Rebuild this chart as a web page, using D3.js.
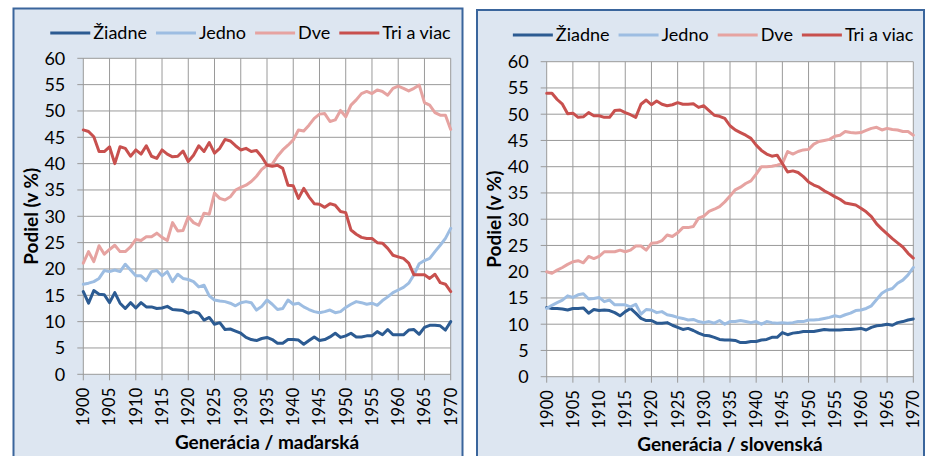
<!DOCTYPE html>
<html><head><meta charset="utf-8">
<script src="https://cdn.jsdelivr.net/npm/d3@7/dist/d3.min.js"></script>
<style>
body{margin:0;background:#fff}
svg{display:block}
text{font-family:Lato,"Open Sans",sans-serif;fill:#000}
</style>
</head><body>
<svg id="c" width="926" height="456"></svg>
<script>
// ---------- DATA ----------
const years = d3.range(1900, 1971);
const seriesNames = ["Žiadne", "Jedno", "Dve", "Tri a viac"];
const xTicks = [1900,1905,1910,1915,1920,1925,1930,1935,1940,1945,1950,1955,1960,1965,1970];
const yTicks = [0,5,10,15,20,25,30,35,40,45,50,55,60];
const panelTitles = ["Generácia / maďarská", "Generácia / slovenská"];
const yTitle = "Podiel (v %)";

const huZiadne = [15.7,13.5,15.9,15.2,15.1,13.6,15.5,13.5,12.5,13.6,
  12.6,13.6,12.8,12.8,12.5,12.6,12.9,12.3,12.2,12.1,
  11.6,11.9,11.6,10.3,10.8,9.5,9.8,8.5,8.6,8.2,
  7.8,7.0,6.6,6.4,6.8,7.0,6.6,5.9,5.9,6.6,
  6.6,6.5,5.7,6.4,7.1,6.4,6.6,7.1,7.8,7.0,
  7.3,7.8,7.1,7.1,7.3,7.3,8.1,7.5,8.5,7.5,
  7.5,7.5,8.4,8.5,7.6,8.9,9.3,9.3,9.2,8.4,10.0];
const huJedno = [17.1,17.3,17.6,18.2,19.7,19.5,19.8,19.5,20.9,19.8,
  18.7,18.7,17.8,19.5,19.7,18.7,19.5,17.6,19.0,18.2,
  18.0,17.6,16.6,16.9,14.9,14.1,13.9,13.8,13.5,13.0,
  13.6,13.8,13.6,12.2,12.9,14.1,13.3,12.3,12.5,14.1,
  13.3,13.5,12.8,12.3,11.9,11.7,11.9,12.2,11.7,11.9,
  12.7,13.3,13.8,13.6,13.3,13.5,13.1,14.0,14.7,15.5,
  16.0,16.5,17.3,18.9,21.0,21.6,22.0,23.3,24.5,25.8,27.7];
const huDve = [21.1,23.3,21.4,24.4,22.8,23.7,24.5,23.3,23.3,24.2,
  25.6,25.4,26.1,26.1,26.8,26.0,25.4,28.8,27.2,27.3,
  29.9,28.8,28.3,30.6,30.4,34.4,33.4,33.1,33.7,35.0,
  35.5,35.9,36.6,37.6,38.9,39.7,39.9,41.4,42.6,43.5,
  44.5,46.4,46.2,47.3,48.6,49.4,49.5,48.0,48.3,50.1,
  48.9,51.1,52.1,53.3,53.7,53.3,54.0,53.7,53.0,54.3,
  54.7,54.3,53.8,54.3,54.9,51.6,51.1,49.7,49.2,49.2,46.5];
const huTri = [46.4,46.1,45.1,42.3,42.3,43.2,40.0,43.2,42.9,41.4,
  42.6,41.8,43.4,41.4,41.0,42.6,41.8,41.3,41.4,42.4,
  40.4,41.6,43.4,42.3,44.0,42.0,42.9,44.6,44.3,43.4,
  42.6,42.9,42.3,42.5,41.3,39.7,39.5,39.7,39.1,35.9,
  35.8,33.4,35.3,33.7,32.4,32.3,31.7,32.4,32.1,30.9,
  30.7,27.4,26.6,26.0,25.8,25.8,25.0,24.9,23.9,22.6,
  22.3,22.0,21.1,18.9,18.9,18.9,18.2,19.0,17.4,17.1,15.7];

const skZiadne = [13.2,13.0,13.0,12.9,12.7,13.0,13.0,13.1,12.1,12.8,
  12.6,12.7,12.6,12.2,11.6,12.4,13.0,12.1,11.1,10.7,
  10.7,10.2,10.2,10.3,9.8,9.4,9.0,9.2,8.8,8.3,
  7.9,7.8,7.5,7.1,7.0,7.0,6.9,6.5,6.5,6.7,
  6.7,7.0,7.1,7.5,7.5,8.4,8.0,8.3,8.4,8.6,
  8.6,8.6,8.8,9.0,8.9,8.9,8.9,9.0,9.0,9.1,
  9.2,8.9,9.4,9.7,9.8,10.0,9.8,10.3,10.5,10.8,11.0];
const skJedno = [13.0,13.6,14.1,14.6,15.4,15.1,15.6,15.8,14.8,14.9,
  15.1,14.3,14.6,13.7,13.7,13.7,13.3,13.8,11.9,12.8,
  12.7,12.2,12.4,11.8,11.6,11.3,11.1,10.8,10.9,10.5,
  10.3,10.5,10.2,10.7,10.0,10.5,10.5,10.7,10.5,10.3,
  10.5,10.0,10.5,10.3,10.2,10.3,10.2,10.3,10.5,10.5,
  10.8,10.8,10.9,11.1,11.3,11.6,11.4,11.8,12.1,12.6,
  12.7,13.0,13.5,14.7,15.9,16.5,16.8,17.8,18.4,19.4,20.8];
const skDve = [20.0,19.7,20.3,20.8,21.4,21.9,22.1,21.7,22.9,22.5,
  22.9,23.8,23.8,23.8,24.1,23.8,24.1,24.9,24.9,24.1,
  25.4,25.5,25.9,27.0,26.7,27.4,28.4,28.4,28.6,30.2,
  30.6,31.5,31.9,32.4,33.3,34.4,35.6,36.1,36.8,37.3,
  38.6,40.0,40.0,40.1,40.3,40.6,42.9,42.4,42.9,43.2,
  43.3,44.3,44.8,45.0,45.2,45.8,46.0,46.7,46.5,46.4,
  46.5,46.9,47.3,47.5,47.0,47.3,47.1,47.0,46.7,46.7,46.0];
const skTri = [54.0,54.0,52.8,51.9,50.1,50.2,49.4,49.5,50.3,49.7,
  49.7,49.4,49.4,50.7,50.8,50.3,49.9,49.4,51.9,52.7,
  51.8,52.5,51.9,51.6,51.8,52.2,51.9,51.9,52.0,51.3,
  51.6,50.7,49.8,49.6,49.2,47.8,47.0,46.5,46.0,45.4,
  44.1,43.1,42.4,42.0,42.2,40.6,39.0,39.2,38.9,38.1,
  37.1,36.5,36.1,35.4,34.9,34.3,33.8,33.1,32.9,32.7,
  32.1,31.4,30.5,29.1,28.1,27.2,26.3,25.5,24.7,23.5,22.6];

// ---------- STYLE / LAYOUT ----------
const colors = ["#2c5b92", "#9dbde2", "#e6a3a1", "#c8504e"];
const panels = [
  {frame:[13.5, 8.5, 449, 460], plot:[83.3, 450.7, 58.3, 374.3], titleY:449, legY:33,
   series:[huZiadne, huJedno, huDve, huTri], title: panelTitles[0]},
  {frame:[477, 10, 447, 460], plot:[546.7, 913.3, 61.7, 376.7], titleY:451, legY:35,
   series:[skZiadne, skJedno, skDve, skTri], title: panelTitles[1]}
];

const svg = d3.select("#c");

panels.forEach(p => {
  const g = svg.append("g");
  const [fx, fy, fw, fh] = p.frame;
  g.append("rect").attr("x", fx).attr("y", fy).attr("width", fw).attr("height", fh)
    .attr("fill", "#dde6f1").attr("stroke", "#3a659c").attr("stroke-width", 2);

  const [x0, x1, yT, yB] = p.plot;
  const x = d3.scaleLinear().domain([1900, 1970]).range([x0, x1]);
  const y = d3.scaleLinear().domain([0, 60]).range([yB, yT]);

  g.append("rect").attr("x", x0).attr("y", yT).attr("width", x1 - x0).attr("height", yB - yT)
    .attr("fill", "#fff");

  // horizontal grid
  g.append("g").selectAll("line").data(yTicks).join("line")
    .attr("x1", x0 - 6).attr("x2", x1).attr("y1", d => y(d)).attr("y2", d => y(d))
    .attr("stroke", "#9a9a9a").attr("stroke-width", 1);
  // vertical grid
  g.append("g").selectAll("line").data(xTicks).join("line")
    .attr("y1", yT).attr("y2", yB + 6).attr("x1", d => x(d)).attr("x2", d => x(d))
    .attr("stroke", "#9a9a9a").attr("stroke-width", 1);

  // y tick labels
  g.append("g").selectAll("text").data(yTicks).join("text")
    .attr("x", x0 - 18).attr("y", d => y(d)).attr("dy", "0.35em")
    .attr("text-anchor", "end").style("font-size", "18px").text(d => d);

  // x tick labels rotated
  g.append("g").selectAll("text").data(xTicks).join("text")
    .attr("transform", d => `translate(${x(d)},${yB + 13.5}) rotate(-90)`)
    .attr("x", 0).attr("dy", "0.36em")
    .attr("text-anchor", "end").style("font-size", "16.5px").text(d => d);

  // lines
  const line = d3.line().x((d, i) => x(years[i])).y(d => y(d)).curve(d3.curveLinear);
  p.series.forEach((s, i) => {
    g.append("path").datum(s).attr("d", line).attr("fill", "none")
      .attr("stroke", colors[i]).attr("stroke-width", 3)
      .attr("stroke-linejoin", "round").attr("stroke-linecap", "round");
  });

  // titles
  g.append("text").attr("x", (x0 + x1) / 2).attr("y", p.titleY)
    .attr("text-anchor", "middle").style("font-size", "19px").style("font-weight", "bold")
    .text(p.title);
  g.append("text").attr("transform", `translate(${x0 - 52},${(yT + yB) / 2}) rotate(-90)`)
    .attr("text-anchor", "middle").attr("dy", "0.35em")
    .style("font-size", "19px").style("font-weight", "bold").text(yTitle);

  // legend (right aligned to plot right edge)
  const lg = g.append("g");
  const ly = p.legY;
  const items = seriesNames.map((name, i) => {
    const it = lg.append("g");
    it.append("line").attr("x1", 0).attr("x2", 40).attr("y1", 0).attr("y2", 0)
      .attr("stroke", colors[i]).attr("stroke-width", 3);
    const t = it.append("text").attr("x", 43).attr("dy", "0.35em")
      .style("font-size", "18px").text(name);
    const w = 43 + t.node().getComputedTextLength();
    return {it, w};
  });
  const gap = 9;
  const total = d3.sum(items, d => d.w) + gap * (items.length - 1);
  let cur = x1 - total;
  items.forEach(d => { d.it.attr("transform", `translate(${cur},${ly})`); cur += d.w + gap; });
});
</script>
</body></html>
